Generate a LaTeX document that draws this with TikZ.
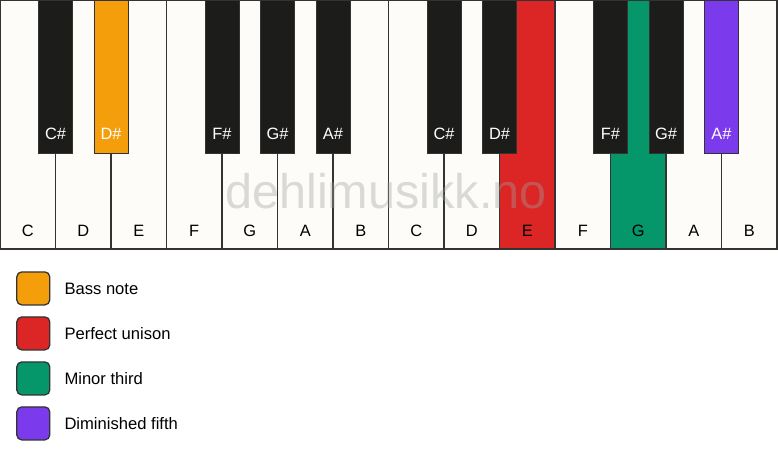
\documentclass[tikz,border=0pt]{standalone}
\usepackage{fontspec}
\setmainfont{Liberation Sans}
\definecolor{whitekey}{HTML}{FDFCF8}
\definecolor{blackkey}{HTML}{1C1C1A}
\definecolor{keyline}{HTML}{333333}
\definecolor{bass}{HTML}{F59E0B}
\definecolor{unison}{HTML}{DC2626}
\definecolor{minor}{HTML}{059669}
\definecolor{dimfifth}{HTML}{7C3AED}
\definecolor{wmark}{HTML}{A0A0A0}
\tikzset{
  whitekeybox/.style={draw=keyline, line width=1.4pt, minimum width=55.5pt, minimum height=249pt, anchor=north west, inner sep=0pt, outer sep=0pt},
  blackkeybox/.style={draw=keyline, line width=1pt, minimum width=34pt, minimum height=153pt, anchor=north, inner sep=0pt, outer sep=0pt},
  keylabel/.style={font=\fontsize{16.4}{16.4}\selectfont, text height=11.7pt, text depth=0pt, inner sep=0pt},
  legendbox/.style={draw=keyline, line width=1.3pt, rounded corners=5pt, minimum width=33pt, minimum height=33pt, inner sep=0pt},
  legendtext/.style={font=\fontsize{16.6}{16.6}\selectfont, text height=11.8pt, text depth=0pt, inner sep=0pt, anchor=west},
}
\begin{document}
\begin{tikzpicture}[x=1pt,y=-1pt]
\useasboundingbox (0,0) rectangle (778,461);
\fill[white] (0,0) rectangle (778,461);
% white keys
\foreach \i/\n/\c in {0/C/whitekey,1/D/whitekey,2/E/whitekey,3/F/whitekey,4/G/whitekey,5/A/whitekey,6/B/whitekey,7/C/whitekey,8/D/whitekey,9/E/unison,10/F/whitekey,11/G/minor,12/A/whitekey,13/B/whitekey}{
  \node[whitekeybox, fill=\c] (w\i) at (\i*55.5,0) {};
  \node[keylabel] (wl\i) at (\i*55.5+27.75,230.3) {\n};
}
% watermark
\node[text=wmark, opacity=0.38, font=\fontsize{48.6}{48.6}\selectfont, inner sep=0pt] (wm) at (386,191) {dehlimusikk.no};
% black keys
\foreach \b/\n/\c in {1/C/blackkey,2/D/bass,4/F/blackkey,5/G/blackkey,6/A/blackkey,8/C/blackkey,9/D/blackkey,11/F/blackkey,12/G/blackkey,13/A/dimfifth}{
  \node[blackkeybox, fill=\c] (b\b) at (\b*55.5,0) {};
  \node[keylabel, text=white] (bl\b) at (\b*55.5,133.3) {\n\#};
}
% legend
\node[legendbox, fill=bass] (lg1) at (33.3,288.4) {};
\node[legendtext] (lt1) at (64.3,288.4) {Bass note};
\node[legendbox, fill=unison] (lg2) at (33.3,333.4) {};
\node[legendtext] (lt2) at (64.3,333.4) {Perfect unison};
\node[legendbox, fill=minor] (lg3) at (33.3,378.4) {};
\node[legendtext] (lt3) at (64.3,378.4) {Minor third};
\node[legendbox, fill=dimfifth] (lg4) at (33.3,423.4) {};
\node[legendtext] (lt4) at (64.3,423.4) {Diminished fifth};
\end{tikzpicture}
\end{document}
